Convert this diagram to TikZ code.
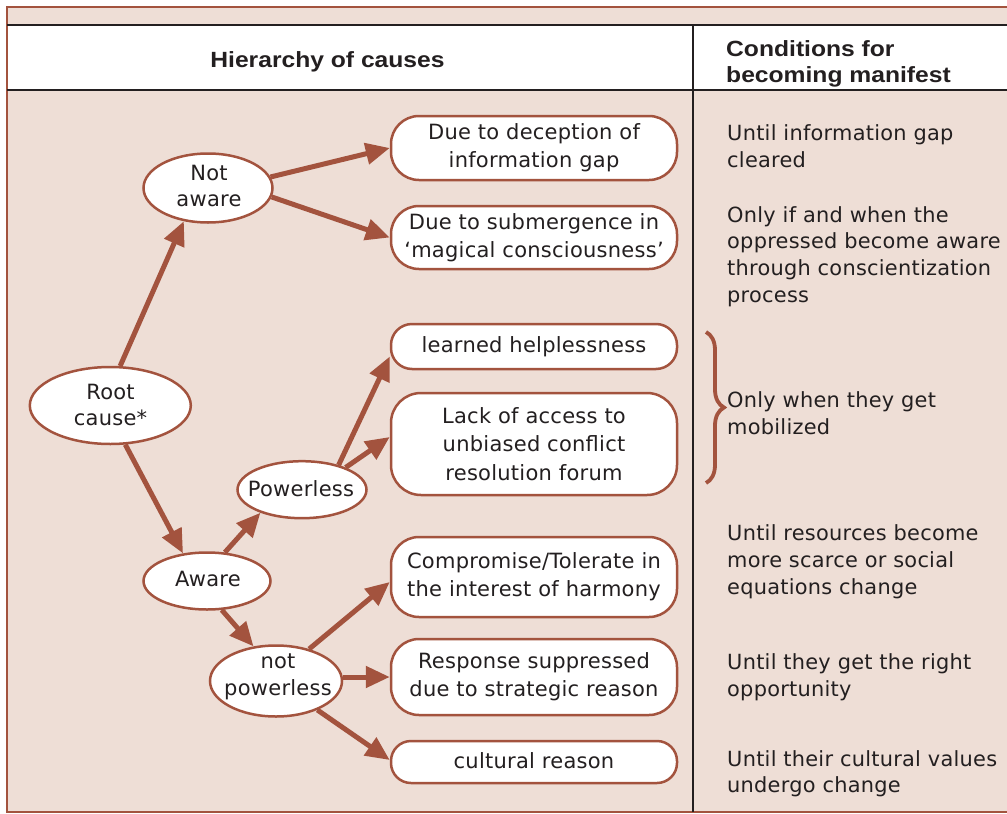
\documentclass[tikz,border=0pt]{standalone}
\usepackage{fontspec}
\setmainfont{DejaVu Sans}[LetterSpace=1.2]
\newfontfamily\headfont[FakeStretch=1.12]{Liberation Sans}
\usetikzlibrary{shapes.geometric,arrows.meta,decorations.pathreplacing}
\definecolor{bg}{RGB}{238,222,214}
\definecolor{rust}{RGB}{163,83,62}
\definecolor{ink}{RGB}{35,31,32}
\begin{document}
\begin{tikzpicture}[x=1pt,y=-1pt,
  oval/.style={ellipse, draw=rust, line width=2.5pt, fill=white, inner sep=0pt},
  ovaltext/.style={anchor=base, inner sep=0pt, text=ink, align=center,
    font=\fontsize{21}{26.5}\selectfont},
  cause/.style={rectangle, rounded corners=28pt, draw=rust, line width=2.5pt,
    fill=white, minimum width=286pt, text=ink, align=center, inner sep=0pt,
    font=\fontsize{21}{28.3}\selectfont},
  link/.style={draw=rust, line width=5pt, -{Triangle[length=24pt,width=21pt]}},
  cond/.style={anchor=base west, inner sep=0pt, text=ink, align=left,
    font=\fontsize{20.9}{26.6}\selectfont},
  head/.style={inner sep=0pt, text=ink, font=\headfont\bfseries\fontsize{22}{26}\selectfont}
]
\useasboundingbox (0,0) rectangle (1007,814);

% table frame
\fill[bg] (7,7) rectangle (1007,812);
\fill[white] (7,25) rectangle (1007,90);
\draw[rust, line width=2pt] (1007,7) -- (7,7) -- (7,812) -- (1007,812);
\draw[ink, line width=2.5pt] (7,25) -- (1007,25) (7,90) -- (1007,90);
\draw[ink, line width=2pt] (693,25) -- (693,812);

% column heads (multi-line nodes sit on the baseline of their last line)
\node[head, anchor=base] (h1) at (327.5,67.3) {Hierarchy of causes};
\node[head, anchor=base west, align=left] (h2) at (726,82.5) {Conditions for\\becoming manifest};

% causes (ovals)
\node[oval, minimum width=129pt, minimum height=69pt] (na) at (208,188) {};
\node[oval, minimum width=161pt, minimum height=77pt] (rc) at (110.3,405.5) {};
\node[oval, minimum width=129pt, minimum height=57pt] (pw) at (302,489.7) {};
\node[oval, minimum width=127pt, minimum height=57pt] (aw) at (207,581) {};
\node[oval, minimum width=132pt, minimum height=71pt] (np) at (276,681) {};

\node[ovaltext] (na-t) at (209,206.7) {Not\\aware};
\node[ovaltext] (rc-t) at (110.5,425.7) {Root\\cause*};
\node[ovaltext] (pw-t) at (301,496) {Powerless};
\node[ovaltext] (aw-t) at (208,586) {Aware};
\node[ovaltext] (np-t) at (278,695) {not\\powerless};

% consequences (rounded boxes)
\node[cause, minimum height=64pt] (b1) at (534,148) {Due to deception of\\information gap};
\node[cause, minimum height=63pt] (b2) at (534,237.5) {Due to submergence in\\‘magical consciousness’};
\node[cause, minimum height=45pt, rounded corners=21pt] (b3) at (534,346.5) {learned helplessness};
\node[cause, minimum height=102pt, rounded corners=30pt] (b4) at (534,444) {Lack of access to\\unbiased conflict\\resolution forum};
\node[cause, minimum height=80pt] (b5) at (534,577) {Compromise/Tolerate in\\the interest of harmony};
\node[cause, minimum height=76pt] (b6) at (534,677) {Response suppressed\\due to strategic reason};
\node[cause, minimum height=42pt, rounded corners=20pt, text depth=3pt] (b7) at (534,762) {cultural reason};

% connectors
\draw[link] (na.10) -- (b1.west);
\draw[link] (na.-8) -- (b2.west);
\draw[link] (rc.76) -- (na.234);
\draw[link] (rc.-69) -- (aw.131);
\draw[link] (aw.58) -- (pw.209);
\draw[link] (aw.-63) -- (np.123);
\draw[link] (pw.34) -- ([yshift=-10pt]b3.west);
\draw[link] (pw.27) -- ([yshift=7pt]b4.west);
\draw[link] (np.44) -- ([yshift=-5pt]b5.west);
\draw[link] (np.east |- b6.west) -- (b6.west);
\draw[link] (np.-35) -- ([yshift=2pt]b7.west);

% brace grouping the two powerless outcomes
\draw[rust, line width=3.8pt, decorate, decoration={brace, amplitude=18pt}]
  (706,332) coordinate (br-a) -- (706,483) coordinate (br-b);

% conditions column
\node[cond] (c1) at (727,167.3) {Until information gap\\cleared};
\node[cond] (c2) at (727,302) {Only if and when the\\oppressed become aware\\through conscientization\\process};
\node[cond] (c3) at (727,434) {Only when they get\\mobilized};
\node[cond] (c4) at (727,594) {Until resources become\\more scarce or social\\equations change};
\node[cond] (c5) at (727,696) {Until they get the right\\opportunity};
\node[cond] (c6) at (727,792.7) {Until their cultural values\\undergo change};
\end{tikzpicture}
\end{document}
